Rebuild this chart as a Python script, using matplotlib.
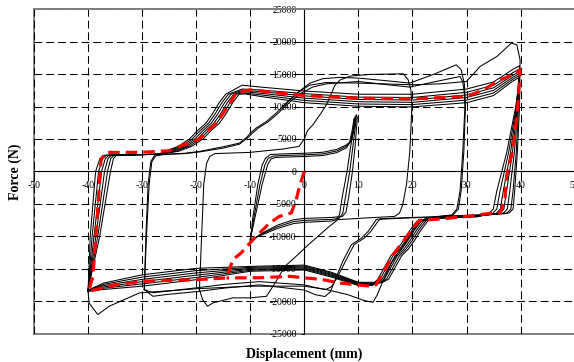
import matplotlib
matplotlib.use('Agg')
import matplotlib.pyplot as plt
from matplotlib.patches import Rectangle
import numpy as np

plt.rcParams['font.family'] = ['Liberation Serif', 'DejaVu Serif']

# ---- loops at +/-10 mm (3 cycles) ----
disp_10a = [-10.0, -9.5, -8.6, -7.8, -7.2, -6.3, -4, 0, 3.4, 6, 7.8, 8.7, 9.2, 9.6,
            9.8, 9.4, 8.9, 8.2, 7.7, 7.0, 5, 0, -2, -5, -8, -10]
force_10a = [-10900, -7000, -2000, 1000, 2000, 2600, 2700, 2800, 2950, 3400, 4100, 4700, 6500, 8750,
             8300, 4000, 0, -4000, -6300, -6950, -7100, -7250, -7450, -8300, -9600, -10900]
disp_10b = [-10.0, -9.3, -8.2, -7.3, -6.7, -5.8, -4, 0, 3.4, 6, 7.8, 8.5, 9.0, 9.4,
            9.6, 9.0, 8.4, 7.6, 7.1, 6.4, 5, 0, -2, -5, -8, -10]
force_10b = [-10700, -7000, -2000, 1000, 2000, 2350, 2450, 2550, 2700, 3150, 3900, 4500, 6300, 8500,
             8100, 4000, 0, -4000, -6500, -7250, -7400, -7550, -7750, -8550, -9700, -10700]
disp_10c = [-10.0, -9.1, -7.8, -6.8, -6.2, -5.3, -4, 0, 3.4, 6, 7.8, 8.3, 8.8, 9.2,
            9.4, 8.6, 7.9, 7.0, 6.5, 5.8, 5, 0, -2, -5, -8, -10]
force_10c = [-10500, -7000, -2000, 1000, 1900, 2150, 2200, 2300, 2450, 2900, 3650, 4300, 6100, 8200,
             7800, 4000, 0, -4000, -6700, -7500, -7650, -7850, -8050, -8800, -9850, -10500]

# ---- loop at +/-20 mm ----
disp_20 = [-19.4, -19.0, -18.6, -18.1, -17.5, -16.5, -10.1, -4, -1, 0, 0.6, 1.6, 3.1, 4.1, 4.8, 5.6,
           6.6, 8.5, 12, 18.3, 19.2, 19.7, 19.9,
           19.5, 18.9, 18.2, 17.6, 16.7, 12, 6.2, 4.3, 2.5, 0.5, -1.2, -3.6, -5.4, -7, -10, -13.2,
           -16.9, -17.9, -18.8, -19.4]
force_20 = [-18230, -10000, -2000, 1200, 2300, 2750, 2930, 3450, 3850, 5000, 6300, 7200, 9000, 10300,
            11600, 13200, 14100, 14700, 14950, 15060, 14130, 12600, 10000,
            3000, -2000, -5130, -6420, -6940, -7150, -7440, -8700, -10020, -11500, -12840, -14640,
            -17200, -19260, -19500, -19500, -20280, -20800, -19800, -18230]

# ---- loops at +/-30 mm (2 cycles) ----
disp_30a = [-29.6, -29.3, -28.9, -28.4, -27.7, -26, -22, -19.4, -15, -12, -10.6, -10, -8.9, -7, -5.2,
            -4, -2.7, -1, 1, 3.4, 6.5, 10, 15, 19.5, 24, 28.1, 29.0, 29.6, 29.8,
            29.5, 29.0, 28.5, 27.5, 24, 20, 14, 13.3, 11.8, 10.6, 8.7, 7.1, 5.6, 4.8, 3.8, 2, 0,
            -8.3, -14.5, -19.4, -25.6, -28, -29.6]
force_30a = [-18230, -10000, -2000, 1500, 2500, 2650, 2800, 3080, 3800, 4370, 5300, 5900, 6690, 7700,
             9000, 10000, 11050, 12300, 13600, 14300, 14500, 14390, 14000, 13620, 15000, 16440, 15700,
             13500, 10000,
             3000, -3000, -5800, -6700, -7000, -7100, -7300, -7440, -9250, -10270, -11300, -13870,
             -16950, -18600, -19300, -19000, -18300, -17500, -17970, -18490, -19000, -19260, -18230]
disp_30b = [-29.6, -29.2, -28.7, -28.2, -27.5, -26, -22, -19.4, -15, -12, -10.3, -9.6, -8.5, -6.6, -4.8,
            -3.6, -2.3, -0.5, 1.5, 4, 10, 15, 19.5, 24, 28.8, 29.3, 29.6, 29.7,
            29.3, 28.8, 28.2, 27.2, 24, 20, 14.5, 13.8, 12.3, 11.1, 9.2, 7.6, 6.0, 5.0, 3.9, 2, 0,
            -8.3, -14.5, -19.4, -25.6, -28, -29.6]
force_30b = [-18230, -10000, -2000, 1500, 2400, 2600, 2750, 3000, 3600, 4200, 5300, 5900, 6700, 7700,
             9000, 10000, 11000, 12100, 13000, 13500, 13870, 13400, 13000, 13800, 14640, 13800, 12000,
             10000,
             3000, -3000, -5800, -6800, -7050, -7150, -7350, -7500, -9250, -10270, -11300, -13870,
             -16500, -17800, -18230, -17900, -17500, -17000, -17400, -17900, -18500, -18700, -18230]

# ---- loops at +/-40 mm: first cycle, then six repeated cycles ----
disp_40_0 = [-4, -2.7, -1, 1, 4, 10, 20, 25, 30, 32.5, 35.6, 38.3, 39.3, 39.9,
             39.8, 39.4, 38.9, 38.6, 37.9, 32, 26, 23, 21.5, 20.2, 19, 17.6, 16.2, 14.6, 13.5, 12.7,
             11, 8, 4, 0, -10, -20, -30.5, -36.1, -38.2, -39.8, -40]
force_40_0 = [10000, 11050, 12300, 13300, 13700, 13620, 13360, 13500, 13870, 16180, 17720, 19790,
              19530, 17210,
              10000, 3000, -3000, -5800, -6400, -6700, -6900, -7100, -7700, -9000, -10600, -12300,
              -14000, -16800, -19000, -20190, -19900, -19000, -18200, -17700, -17700, -18100, -18740,
              -20800, -22080, -20300, -18500]

disp_40_1 = [-40.0, -39.6, -38.6, -37.8, -37.0, -32, -27, -25.75, -23.25, -21.25, -19.75, -18.25,
             -17.05, -15.75, -14.55, -11.5, -8, 0, 10, 20, 30, 35, 38.5, 39.8,
             39.6, 39.2, 38.6, 38.2, 37.4, 32, 26, 23, 20.8, 19.6, 18.4, 17.2, 16.0, 14.8, 13.6, 12.5,
             10, 5, 0, -10, -20, -30, -37, -40]
force_40_1 = [-18500, -10000, 0, 2000, 2500, 2550, 2650, 3100, 3900, 5000, 6300, 7400, 8800, 10600,
              11900, 13300, 13000, 12400, 11900, 11900, 12700, 13800, 15700, 16300,
              10000, 3000, -3000, -5800, -6500, -6800, -7000, -7200, -7700, -9000, -10600, -12000,
              -13000, -14800, -16600, -17600,
              -17600, -16300, -15200, -15400, -16700, -17700, -18200, -18500]

disp_40_2 = [-40.0, -39.25, -38.05, -37.3, -36.55, -32, -27, -25.25, -22.75, -20.75, -19.25, -17.75,
             -16.55, -15.25, -14.05, -11.5, -8, 0, 10, 20, 30, 35, 38.5, 39.8,
             39.5, 38.85, 38.0, 37.55, 36.75, 32, 26, 23, 21.2, 20.0, 18.8, 17.6, 16.4, 15.2, 14.0,
             12.9, 10, 5, 0, -10, -20, -30, -37, -40]
force_40_2 = [-18460, -10000, 0, 2000, 2500, 2550, 2650, 3100, 3900, 5000, 6300, 7400, 8800, 10600,
              11900, 12700, 12550, 12000, 11450, 11400, 12200, 13300, 15200, 15800,
              10000, 3000, -3000, -5800, -6500, -6840, -7040, -7240, -7700, -9000, -10600, -12000,
              -13000, -14800, -16600, -17500,
              -17500, -16150, -15050, -15250, -16350, -17350, -18000, -18460]

disp_40_3 = [-40.0, -38.9, -37.5, -36.8, -36.1, -32, -27, -24.75, -22.25, -20.25, -18.75, -17.25,
             -16.05, -14.75, -13.55, -11.5, -8, 0, 10, 20, 30, 35, 38.5, 39.8,
             39.4, 38.5, 37.4, 36.9, 36.1, 32, 26, 23, 21.6, 20.4, 19.2, 18.0, 16.8, 15.6, 14.4, 13.3,
             10, 5, 0, -10, -20, -30, -37, -40]
force_40_3 = [-18420, -10000, 0, 2000, 2500, 2550, 2650, 3100, 3900, 5000, 6300, 7400, 8800, 10600,
              11900, 12500, 12300, 11650, 11100, 11000, 11800, 12900, 14800, 15400,
              10000, 3000, -3000, -5800, -6500, -6880, -7080, -7280, -7700, -9000, -10600, -12000,
              -13000, -14800, -16600, -17400,
              -17400, -16000, -14900, -15100, -16000, -17000, -17800, -18420]

disp_40_4 = [-40.0, -38.55, -36.95, -36.3, -35.65, -32, -27, -24.25, -21.75, -19.75, -18.25, -16.75,
             -15.55, -14.25, -13.05, -11.5, -8, 0, 10, 20, 30, 35, 38.5, 39.8,
             39.3, 38.15, 36.8, 36.25, 35.45, 32, 26, 23, 22.0, 20.8, 19.6, 18.4, 17.2, 16.0, 14.8,
             13.7, 10, 5, 0, -10, -20, -30, -37, -40]
force_40_4 = [-18380, -10000, 0, 2000, 2500, 2550, 2650, 3100, 3900, 5000, 6300, 7400, 8800, 10600,
              11900, 12300, 12050, 11300, 10750, 10650, 11400, 12500, 14500, 15100,
              10000, 3000, -3000, -5800, -6500, -6920, -7120, -7320, -7700, -9000, -10600, -12000,
              -13000, -14800, -16600, -17300,
              -17300, -15850, -14750, -14950, -15650, -16650, -17600, -18380]

disp_40_5 = [-40.0, -38.2, -36.4, -35.8, -35.2, -32, -27, -23.75, -21.25, -19.25, -17.75, -16.25,
             -15.05, -13.75, -12.55, -11.5, -8, 0, 10, 20, 30, 35, 38.5, 39.8,
             39.2, 37.8, 36.2, 35.6, 34.8, 32, 26, 23, 22.4, 21.2, 20.0, 18.8, 17.6, 16.4, 15.2, 14.1,
             10, 5, 0, -10, -20, -30, -37, -40]
force_40_5 = [-18340, -10000, 0, 2000, 2500, 2550, 2650, 3100, 3900, 5000, 6300, 7400, 8800, 10600,
              11900, 12100, 11800, 10950, 10400, 10300, 11000, 12100, 14200, 14800,
              10000, 3000, -3000, -5800, -6500, -6960, -7160, -7360, -7700, -9000, -10600, -12000,
              -13000, -14800, -16600, -17200,
              -17200, -15700, -14600, -14800, -15300, -16300, -17400, -18340]

disp_40_6 = [-40.0, -37.85, -35.85, -35.3, -34.75, -32, -27, -23.25, -20.75, -18.75, -17.25, -15.75,
             -14.55, -13.25, -12.05, -11.0, -8, 0, 10, 20, 30, 35, 38.5, 39.8,
             39.1, 37.45, 35.6, 34.95, 34.15, 32, 26, 23, 22.8, 21.6, 20.4, 19.2, 18.0, 16.8, 15.6,
             14.5, 10, 5, 0, -10, -20, -30, -37, -40]
force_40_6 = [-18300, -10000, 0, 2000, 2500, 2550, 2650, 3100, 3900, 5000, 6300, 7400, 8800, 10600,
              11900, 11950, 11550, 10600, 10050, 9950, 10600, 11700, 13900, 14500,
              10000, 3000, -3000, -5800, -6500, -7000, -7200, -7400, -7700, -9000, -10600, -12000,
              -13000, -14800, -16600, -17100,
              -17100, -15550, -14450, -14650, -14950, -15950, -17200, -18300]

# ---- model curve (red dashed) ----
disp_model = [0, -0.9, -1.5, -2.4, -4.6, -6.4, -9.2, -11.7, -13.2, -14.4, -20, -25, -30, -35, -39.9,
              -39.1, -38.2, -37.6, -36.7, -35.6, -30, -24.9, -23.1, -19.4, -16.3, -14.1, -12.6, -10.1,
              -4.6, 0, 10, 20.1, 30.1, 33.1, 36.2, 38.6, 39.9,
              39.4, 38.6, 37.4, 37.1, 36.2, 34.9, 30, 25.1, 21.3, 20.1, 18.3, 16.4, 14.9, 13.3, 12.4,
              6.5, 3.4, -2.7, -8.3, -14.4]
force_model = [0, -2310, -4360, -6410, -6930, -7950, -10260, -12580, -13600, -16430, -16700, -16800,
               -16950, -17500, -18490,
               -16180, -5900, 1800, 2930, 2930, 2950, 3190, 3850, 4990, 7460, 10020, 12100, 12590,
               12080, 11700, 11300, 11200, 11560, 12590, 14130, 14900, 15670,
               9000, 3500, -770, -4360, -6400, -6410, -6930, -7340, -7550, -8720, -10790, -12840,
               -15150, -17460, -17720,
               -17200, -16690, -16180, -16400, -16430]

x_ticks = [-50, -40, -30, -20, -10, 0, 10, 20, 30, 40, 50]
y_ticks = [-25000, -20000, -15000, -10000, -5000, 0, 5000, 10000, 15000, 20000, 25000]

fig = plt.figure(figsize=(5.74, 3.62), dpi=100)
ax = fig.add_axes([0.0592, 0.0787, 0.942, 0.8956])

black_loops = [
    (disp_10a, force_10a), (disp_10b, force_10b), (disp_10c, force_10c),
    (disp_20, force_20), (disp_30a, force_30a), (disp_30b, force_30b),
    (disp_40_0, force_40_0), (disp_40_1, force_40_1), (disp_40_2, force_40_2),
    (disp_40_3, force_40_3), (disp_40_4, force_40_4), (disp_40_5, force_40_5),
    (disp_40_6, force_40_6),
]
for d, f in black_loops:
    ax.plot(d, f, color='black', lw=0.75, zorder=3, solid_joinstyle='round')

ax.plot(disp_model, force_model, color='#ff0000', lw=2.3, zorder=5,
        linestyle=(0, (3.6, 1.9)), dash_capstyle='butt')

ax.set_xlim(-50, 50)
ax.set_ylim(-25000, 25000)
ax.set_xticks(x_ticks)
ax.set_yticks(y_ticks)
ax.set_xticklabels([str(v) for v in x_ticks])
ax.set_yticklabels([str(v) for v in y_ticks])

ax.grid(True, color='black', lw=0.75, linestyle=(0, (7.5, 3.8)), zorder=1)
ax.set_axisbelow(True)

# axes through the origin, grey frame around the plot
ax.spines['left'].set_position('zero')
ax.spines['bottom'].set_position('zero')
ax.spines['left'].set_color('black')
ax.spines['bottom'].set_color('black')
ax.spines['left'].set_linewidth(0.8)
ax.spines['bottom'].set_linewidth(0.8)
ax.spines['top'].set_color('#808080')
ax.spines['right'].set_color('#808080')
ax.spines['top'].set_linewidth(1.4)
ax.spines['right'].set_linewidth(1.4)
ax.add_patch(Rectangle((0, 0), 1, 1, transform=ax.transAxes, fill=False,
                       ec='#808080', lw=1.4, zorder=0.5, clip_on=False))

ax.tick_params(axis='x', labelsize=7, length=2.5, width=0.6, pad=4.3)
ax.tick_params(axis='y', labelsize=7, length=2.5, width=0.6, pad=3.0)

ax.set_xlabel('Displacement (mm)', fontsize=10, fontweight='bold', va='center')
ax.xaxis.set_label_coords(0.5, -0.063)
ax.set_ylabel('Force (N)', fontsize=10, fontweight='bold', va='center')
ax.yaxis.set_label_coords(-0.035, 0.5)

fig.savefig('out.png', dpi=100, facecolor='white')
